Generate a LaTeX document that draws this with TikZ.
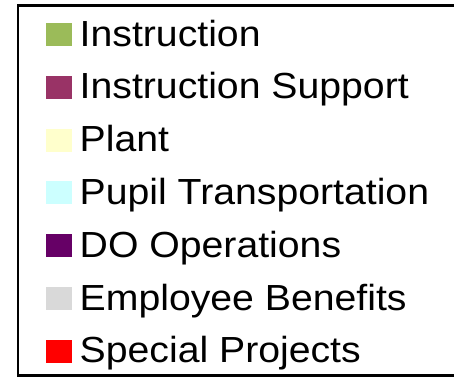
\documentclass[tikz,border=0pt]{standalone}
\usepackage{fontspec}
\setmainfont{Liberation Sans}
\definecolor{cInstr}{HTML}{9BBB59}
\definecolor{cSupport}{HTML}{993366}
\definecolor{cPlant}{HTML}{FFFFCC}
\definecolor{cPupil}{HTML}{CCFFFF}
\definecolor{cDO}{HTML}{660066}
\definecolor{cBen}{HTML}{D9D9D9}
\definecolor{cSpec}{HTML}{FF0000}
\begin{document}
\begin{tikzpicture}[x=1pt,y=1pt,
  swatch/.style={fill=#1,draw=none},
  label/.style={anchor=base west,inner sep=0pt,font=\fontsize{36.3}{40}\selectfont}]
\useasboundingbox (0,0) rectangle (454,376);
\clip (0,0) rectangle (454,376);
\draw[line width=2.4pt,black] (18,0.6) rectangle (480,370.7) coordinate (boxtr);
\foreach \i/\col/\txt in {0/cInstr/Instruction,1/cSupport/Instruction Support,2/cPlant/Plant,3/cPupil/Pupil Transportation,4/cDO/DO Operations,5/cBen/Employee Benefits,6/cSpec/Special Projects}{
  \pgfmathsetmacro{\yb}{376-46-52.83*\i}
  \fill[swatch=\col] (46,\yb) rectangle (72,\yb+23);
  \node[label] (t\i) at (79.5,\yb) {\scalebox{1.08}[1]{\txt}};
}
\end{tikzpicture}
\end{document}
